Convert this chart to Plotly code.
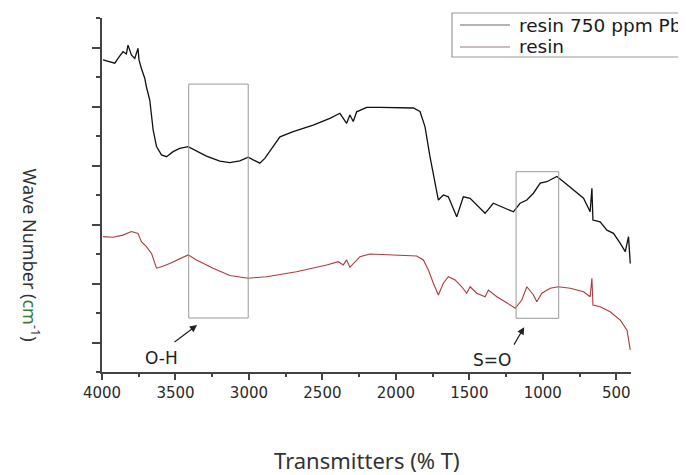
import plotly.graph_objects as go

# ---- data ----
wn_pb = [3993, 3948, 3913, 3891, 3857, 3834, 3823, 3800, 3777, 3755, 3748, 3732, 3709, 3698,
         3675, 3652, 3629, 3595, 3561, 3516, 3471, 3414, 3357, 3289, 3198, 3130, 3062, 3005,
         2971, 2926, 2892, 2846, 2789, 2699, 2563, 2449, 2381, 2358, 2335, 2313, 2290, 2267,
         2199, 2108, 2040, 1881, 1836, 1802, 1768, 1734, 1711, 1677, 1643, 1586, 1541, 1495,
         1450, 1393, 1337, 1279, 1200, 1155, 1109, 1064, 1018, 973, 905, 859, 791, 723, 678,
         666, 659, 610, 564, 519, 473, 439, 417, 405]
t_pb = [10.58, 10.52, 10.47, 10.63, 10.86, 10.78, 11.08, 10.75, 10.63, 10.97, 10.58, 10.29, 9.96, 9.67,
        9.22, 8.21, 7.64, 7.36, 7.30, 7.47, 7.58, 7.64, 7.50, 7.32, 7.15, 7.10, 7.16, 7.28,
        7.19, 7.08, 7.24, 7.58, 7.97, 8.15, 8.37, 8.60, 8.77, 8.60, 8.43, 8.71, 8.49, 8.82,
        8.97, 8.97, 8.97, 8.95, 8.83, 8.32, 7.30, 6.40, 5.83, 6.00, 5.94, 5.26, 5.94, 5.89,
        5.66, 5.38, 5.72, 5.60, 5.43, 5.72, 5.83, 6.06, 6.40, 6.45, 6.63, 6.45, 6.17, 5.89, 5.43,
        6.23, 5.15, 5.09, 4.81, 4.70, 4.36, 4.08, 4.59, 3.68]

wn_resin = [3993, 3925, 3857, 3800, 3755, 3732, 3698, 3663, 3629, 3595, 3539, 3471, 3414, 3357,
            3244, 3130, 3005, 2880, 2676, 2471, 2392, 2358, 2335, 2313, 2290, 2245, 2176, 2108,
            2040, 1858, 1813, 1779, 1745, 1711, 1677, 1643, 1597, 1552, 1518, 1495, 1450, 1393,
            1370, 1313, 1257, 1188, 1143, 1109, 1064, 1041, 1007, 950, 894, 814, 723, 678, 666,
            659, 610, 542, 473, 427, 405]
t_resin = [4.59, 4.57, 4.64, 4.76, 4.70, 4.42, 4.25, 4.02, 3.52, 3.57, 3.68, 3.85, 3.97, 3.80,
           3.52, 3.27, 3.18, 3.23, 3.40, 3.63, 3.74, 3.63, 3.80, 3.55, 3.68, 3.91, 4.00, 3.99,
           3.97, 3.93, 3.80, 3.46, 3.01, 2.61, 3.01, 3.23, 3.12, 2.89, 2.67, 2.89, 2.67, 2.55,
           2.78, 2.55, 2.38, 2.16, 2.44, 2.89, 2.61, 2.38, 2.67, 2.84, 2.89, 2.84, 2.72, 2.55, 3.18,
           2.27, 2.21, 2.04, 1.76, 1.42, 0.75]

series_names = ["resin 750 ppm Pb", "resin"]
x_tick_vals = [4000, 3500, 3000, 2500, 2000, 1500, 1000, 500]
x_tick_text = ["4000", "3500", "3000", "2500", "2000", "1500", "1000", "500"]
x_minor_vals = [3750, 3250, 2750, 2250, 1750, 1250, 750]
y_major_vals = [1, 3, 5, 7, 9, 11]
y_minor_vals = [0, 2, 4, 6, 8, 10, 12]

# marked bands: (label, high wavenumber, low wavenumber)
bands = [("O-H", 3410, 3005), ("S=O", 1182, 892)]

line_colors = ["#111111", "#b03a3a"]

fig = go.Figure()
fig.add_trace(go.Scatter(x=wn_pb, y=t_pb, mode="lines", name=series_names[0],
                         line=dict(color=line_colors[0], width=1.3)))
fig.add_trace(go.Scatter(x=wn_resin, y=t_resin, mode="lines", name=series_names[1],
                         line=dict(color=line_colors[1], width=1.1)))

# band boxes
fig.add_shape(type="rect", x0=bands[0][1], x1=bands[0][2], y0=1.83, y1=9.76,
              line=dict(color="#9a9a9a", width=1), fillcolor="rgba(0,0,0,0)")
fig.add_shape(type="rect", x0=bands[1][1], x1=bands[1][2], y0=1.82, y1=6.79,
              line=dict(color="#9a9a9a", width=1), fillcolor="rgba(0,0,0,0)")

lab_font = dict(family="DejaVu Sans", size=17, color="#222")
fig.add_annotation(x=3596, y=0.46, text=bands[0][0], showarrow=False, font=lab_font)
fig.add_annotation(x=1347, y=0.41, text=bands[1][0], showarrow=False, font=lab_font)
fig.add_annotation(x=3353, y=1.59, text="", showarrow=True, ax=-24, ay=18,
                   arrowhead=2, arrowsize=1.2, arrowwidth=1.2, arrowcolor="#222")
fig.add_annotation(x=1127, y=1.52, text="", showarrow=True, ax=-11, ay=19,
                   arrowhead=2, arrowsize=1.2, arrowwidth=1.2, arrowcolor="#222")

# legend box drawn in paper space (runs off the right edge like the reference)
fig.add_shape(type="rect", xref="paper", yref="paper", x0=0.6616, x1=1.2, y0=0.8898, y1=1.0141,
              line=dict(color="#9a9a9a", width=1.2), fillcolor="white", layer="above")
leg_y = [0.9802, 0.9181]
leg_sample_colors = ["#6a6a6a", "#9a7878"]
for i in range(2):
    fig.add_shape(type="line", xref="paper", yref="paper", x0=0.6767, x1=0.7713,
                  y0=leg_y[i], y1=leg_y[i], line=dict(color=leg_sample_colors[i], width=1.2),
                  layer="above")
    fig.add_annotation(xref="paper", yref="paper", x=0.7845, y=leg_y[i], text=series_names[i],
                       showarrow=False, xanchor="left", yanchor="middle",
                       font=dict(family="DejaVu Sans", size=18.5, color="#1a1a1a"))

# axis titles
fig.add_annotation(xref="paper", yref="paper", x=0.5, y=-0.249,
                   text="Transmitters (% T)", showarrow=False,
                   font=dict(family="Noto Sans", size=22, color="#333333"),
                   xanchor="center", yanchor="middle")
fig.add_annotation(xref="paper", yref="paper", x=-0.135, y=0.33,
                   text="Wave Number (<span style='color:#3d7a3d'>cm</span><sup>-1</sup>)",
                   showarrow=False, textangle=90,
                   font=dict(family="Noto Sans", size=18, color="#333333"),
                   xanchor="center", yanchor="middle")

fig.update_xaxes(range=[4000, 400], showline=True, linecolor="#444", linewidth=2,
                 tickmode="array", tickvals=x_tick_vals, ticktext=x_tick_text,
                 ticks="outside", ticklen=6, tickwidth=1.5, tickcolor="#444",
                 minor=dict(tickmode="array", tickvals=x_minor_vals, ticks="outside",
                            ticklen=3, tickwidth=1.5, tickcolor="#444", showgrid=False),
                 tickfont=dict(family="DejaVu Sans", size=15, color="#2a2a2a"),
                 showgrid=False, zeroline=False, mirror=False)
fig.update_yaxes(range=[0, 12], showline=True, linecolor="#444", linewidth=2,
                 tickmode="array", tickvals=y_major_vals, showticklabels=False,
                 ticks="outside", ticklen=8, tickwidth=1.5, tickcolor="#444",
                 minor=dict(tickmode="array", tickvals=y_minor_vals, ticks="outside",
                            ticklen=4, tickwidth=1.5, tickcolor="#444", showgrid=False),
                 showgrid=False, zeroline=False)

# page body adds an 8px offset, so the figure is 8px smaller and margins compensate
fig.update_layout(
    width=678, height=467,
    margin=dict(l=94, r=55, t=10, b=103, autoexpand=False),
    paper_bgcolor="white", plot_bgcolor="white",
    showlegend=False,
)

fig.write_html("out.html")
